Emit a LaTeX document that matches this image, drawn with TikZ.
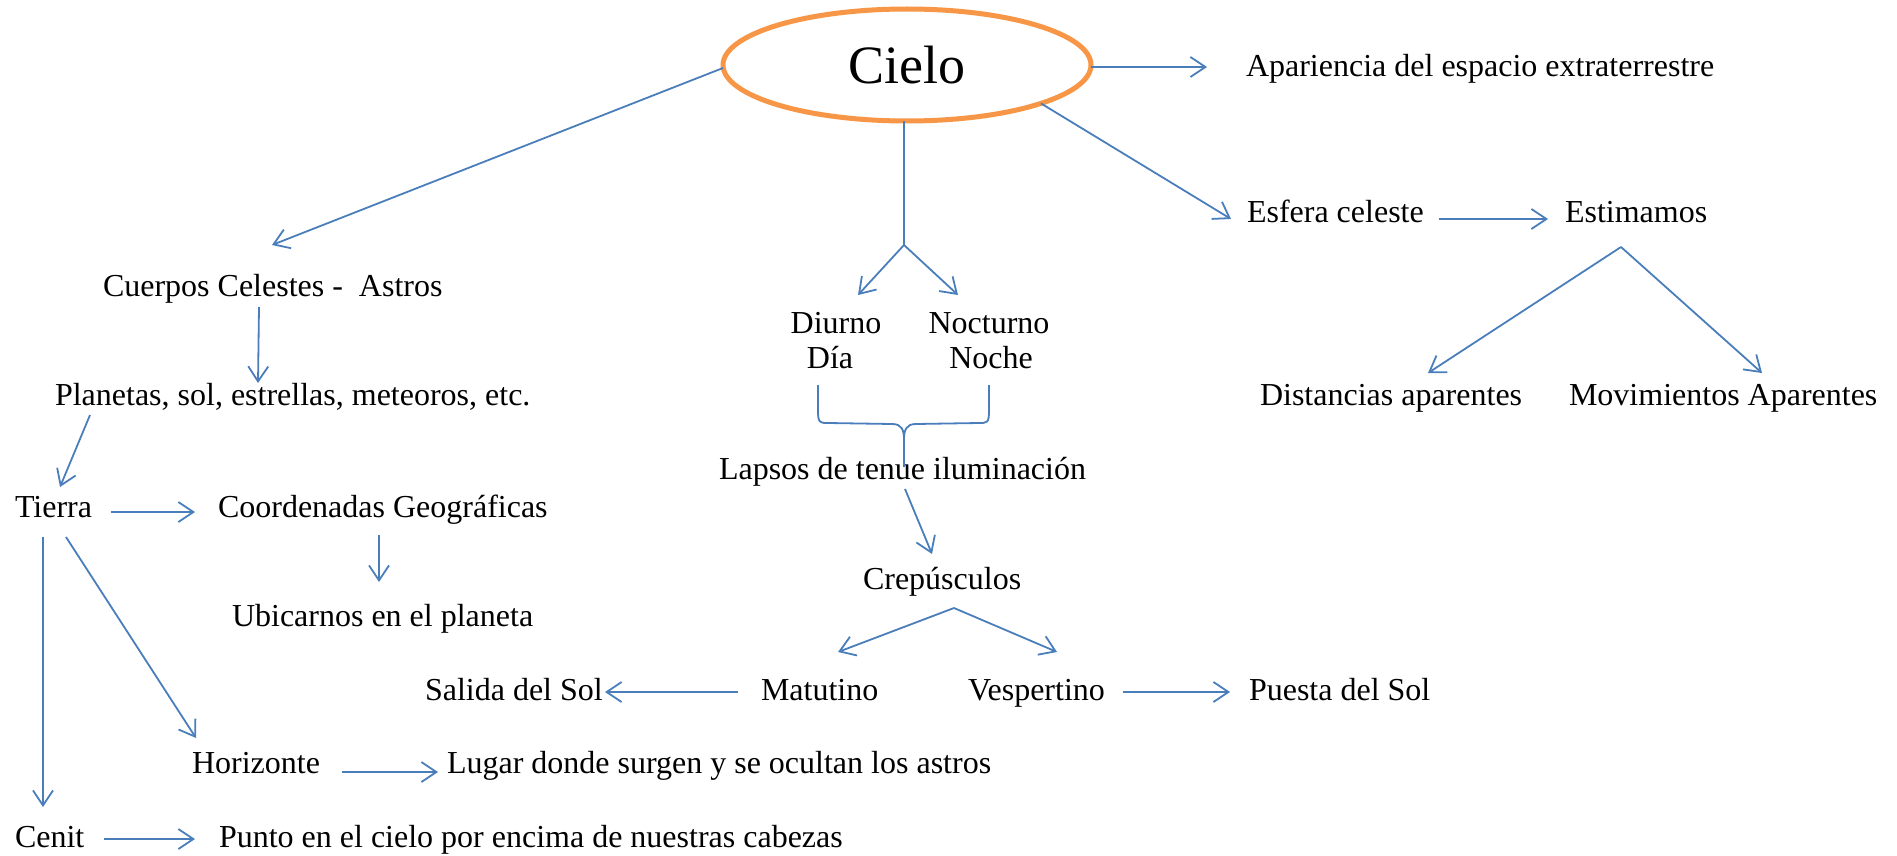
\documentclass[tikz,border=0pt]{standalone}
\usepackage{fontspec}
\setmainfont{Liberation Serif}
\usetikzlibrary{arrows.meta,calc,shapes.geometric}
\definecolor{lineblue}{RGB}{74,126,187}
\definecolor{ringorange}{RGB}{247,150,70}
\begin{document}
\begin{tikzpicture}[x=1pt,y=-1pt,
  lbl/.style={anchor=base west, inner sep=0pt, outer sep=0pt, font=\fontsize{32}{35}\selectfont},
  lblc/.style={anchor=base, inner sep=0pt, outer sep=0pt, font=\fontsize{32}{35}\selectfont},
  arr/.style={draw=lineblue, line width=1.8pt, -{Straight Barb[length=15pt,width=20pt,line width=1.8pt]}},
  ln/.style={draw=lineblue, line width=1.8pt},
  rootnode/.style={ellipse, draw=ringorange, line width=5pt, minimum width=368pt, minimum height=112pt, inner sep=0pt, outer sep=0pt, font=\fontsize{54}{60}\selectfont}]
\useasboundingbox (0,0) rectangle (1897,856);

% nodes
\node[rootnode] (cielo) at (907,65) {Cielo};
\node[lbl] (apar) at (1246,77) {Apariencia del espacio extraterrestre};
\node[lbl] (esfera) at (1247,222) {Esfera celeste};
\node[lbl] (estim) at (1565,222) {Estimamos};
\node[lbl] (dist) at (1260,405) {Distancias aparentes};
\node[lbl] (movi) at (1569,405) {Movimientos Aparentes};
\node[lbl] (cuerpos) at (103,296) {Cuerpos Celestes -\ \ Astros};
\node[lbl] (planetas) at (55,405) {Planetas, sol, estrellas, meteoros, etc.};
\node[lbl] (tierra) at (15,517) {Tierra};
\node[lbl] (coord) at (218,517) {Coordenadas Geográficas};
\node[lbl] (ubic) at (232,626) {Ubicarnos en el planeta};
\node[lbl] (horiz) at (192,773) {Horizonte};
\node[lbl] (lugar) at (447,773) {Lugar donde surgen y se ocultan los astros};
\node[lbl] (cenit) at (15,847) {Cenit};
\node[lbl] (punto) at (219,847) {Punto en el cielo por encima de nuestras cabezas};
\node[lblc] (diurno) at (836,333) {Diurno};
\node[lblc] (dia) at (830,368) {Día};
\node[lblc] (noct) at (989,333) {Nocturno};
\node[lblc] (noche) at (991,368) {Noche};
\node[lbl] (lapsos) at (719,479) {Lapsos de tenue iluminación};
\node[lbl] (crep) at (863,589) {Crepúsculos};
\node[lbl] (matu) at (761,700) {Matutino};
\node[lbl] (vesp) at (968,700) {Vespertino};
\node[lbl] (salida) at (425,700) {Salida del Sol};
\node[lbl] (puesta) at (1249,700) {Puesta del Sol};

% branch points
\coordinate (cb) at ($(diurno.base)+(68,-88)$);
\coordinate (eb) at ($(estim.base west)+(56,25)$);
\coordinate (crb) at ($(crep.base west)+(91,19)$);

% connectors from Cielo
\draw[arr] ($(cielo.east)+(0,2)$) -- ($(apar.base west)+(-39,-10)$);
\draw[arr] ($(cielo.west)+(0,3)$) -- ($(cuerpos.base west)+(169,-51)$);
\draw[ln] ($(cielo.south)+(-3,0)$) -- (cb);
\draw[arr] (cb) -- ($(diurno.base)+(22,-38)$);
\draw[arr] (cb) -- ($(noct.base)+(-31,-38)$);
\draw[arr] (cielo.-16) -- ($(esfera.base west)+(-16,-3)$);

% right branch
\draw[arr] ($(esfera.base west)+(192,-3)$) -- ($(estim.base west)+(-17,-3)$);
\draw[arr] (eb) -- ($(dist.base west)+(168,-32)$);
\draw[arr] (eb) -- ($(movi.base west)+(193,-32)$);

% left branch
\draw[arr] ($(cuerpos.base west)+(156,11)$) -- ($(planetas.base west)+(203,-22)$);
\draw[arr] ($(planetas.base west)+(35,10)$) -- ($(tierra.base west)+(45,-30)$);
\draw[arr] ($(tierra.base west)+(96,-5)$) -- ($(coord.base west)+(-23,-5)$);
\draw[arr] ($(coord.base west)+(161,18)$) -- ($(ubic.base west)+(147,-44)$);
\draw[arr] ($(tierra.base west)+(28,20)$) -- ($(cenit.base west)+(28,-40)$);
\draw[arr] ($(tierra.base west)+(51,20)$) -- ($(horiz.base west)+(4,-35)$);
\draw[arr] ($(horiz.base west)+(150,-1)$) -- ($(lugar.base west)+(-9,-1)$);
\draw[arr] ($(cenit.base west)+(89,-8)$) -- ($(punto.base west)+(-24,-8)$);

% brace
\coordinate (bl) at ($(dia.base)+(-12,17)$);
\coordinate (br) at ($(noche.base)+(-2,17)$);
\coordinate (bt) at ($(lapsos.base west)+(185,-12)$);
\draw[ln] (bl) -- ++(0,26) .. controls +(0,12) and +(-8,0) .. ++(10,12) -- ($(bt)+(-12,-43)$) .. controls +(10,0) and +(0,-10) .. ($(bt)+(0,-27)$) -- (bt);
\draw[ln] (br) -- ++(0,26) .. controls +(0,12) and +(8,0) .. ++(-10,12) -- ($(bt)+(12,-43)$) .. controls +(-10,0) and +(0,-10) .. ($(bt)+(0,-27)$);

% centre branch
\draw[arr] ($(lapsos.base west)+(186,10)$) -- ($(crep.base west)+(69,-35)$);
\draw[arr] (crb) -- ($(matu.base west)+(77,-48)$);
\draw[arr] (crb) -- ($(vesp.base west)+(89,-48)$);
\draw[arr] ($(matu.base west)+(-23,-8)$) -- ($(salida.base west)+(180,-8)$);
\draw[arr] ($(vesp.base west)+(155,-8)$) -- ($(puesta.base west)+(-19,-8)$);
\end{tikzpicture}
\end{document}
